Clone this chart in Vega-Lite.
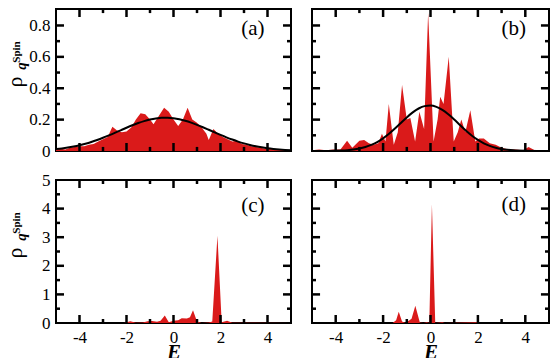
{
  "$schema": "https://vega.github.io/schema/vega-lite/v6.json",
  "background": "white",
  "padding": {"left": 3, "top": 3, "right": 3, "bottom": 0},
  "columns": 2,
  "spacing": {"row": 29, "column": 21},
  "bounds": "flush",
  "config": {
    "view": {"stroke": "black", "strokeWidth": 2},
    "axis": {"domain": false, "grid": false, "ticks": false, "tickSize": 0, "labelFont": "Liberation Serif", "labelFontSize": 17, "labelColor": "black", "titleColor": "black", "titleFont": "Liberation Serif"}
  },
  "datasets": {
    "one": [{"k": 1}],
    "ticksT": [
      {"id": "b-4", "E": -4, "v": 0}, {"id": "b-4", "E": -4, "v": 0.051}, {"id": "b-2", "E": -2, "v": 0}, {"id": "b-2", "E": -2, "v": 0.051},
      {"id": "b0", "E": 0, "v": 0}, {"id": "b0", "E": 0, "v": 0.051}, {"id": "b2", "E": 2, "v": 0}, {"id": "b2", "E": 2, "v": 0.051},
      {"id": "b4", "E": 4, "v": 0}, {"id": "b4", "E": 4, "v": 0.051},
      {"id": "b-3", "E": -3, "v": 0}, {"id": "b-3", "E": -3, "v": 0.026}, {"id": "b-1", "E": -1, "v": 0}, {"id": "b-1", "E": -1, "v": 0.026},
      {"id": "b1", "E": 1, "v": 0}, {"id": "b1", "E": 1, "v": 0.026}, {"id": "b3", "E": 3, "v": 0}, {"id": "b3", "E": 3, "v": 0.026},
      {"id": "t-4", "E": -4, "v": 0.905}, {"id": "t-4", "E": -4, "v": 0.854}, {"id": "t-2", "E": -2, "v": 0.905}, {"id": "t-2", "E": -2, "v": 0.854},
      {"id": "t0", "E": 0, "v": 0.905}, {"id": "t0", "E": 0, "v": 0.854}, {"id": "t2", "E": 2, "v": 0.905}, {"id": "t2", "E": 2, "v": 0.854},
      {"id": "t4", "E": 4, "v": 0.905}, {"id": "t4", "E": 4, "v": 0.854},
      {"id": "t-3", "E": -3, "v": 0.905}, {"id": "t-3", "E": -3, "v": 0.879}, {"id": "t-1", "E": -1, "v": 0.905}, {"id": "t-1", "E": -1, "v": 0.879},
      {"id": "t1", "E": 1, "v": 0.905}, {"id": "t1", "E": 1, "v": 0.879}, {"id": "t3", "E": 3, "v": 0.905}, {"id": "t3", "E": 3, "v": 0.879},
      {"id": "l.2", "E": -5, "v": 0.2}, {"id": "l.2", "E": -4.66, "v": 0.2}, {"id": "l.4", "E": -5, "v": 0.4}, {"id": "l.4", "E": -4.66, "v": 0.4},
      {"id": "l.6", "E": -5, "v": 0.6}, {"id": "l.6", "E": -4.66, "v": 0.6}, {"id": "l.8", "E": -5, "v": 0.8}, {"id": "l.8", "E": -4.66, "v": 0.8},
      {"id": "l.1", "E": -5, "v": 0.1}, {"id": "l.1", "E": -4.83, "v": 0.1}, {"id": "l.3", "E": -5, "v": 0.3}, {"id": "l.3", "E": -4.83, "v": 0.3},
      {"id": "l.5", "E": -5, "v": 0.5}, {"id": "l.5", "E": -4.83, "v": 0.5}, {"id": "l.7", "E": -5, "v": 0.7}, {"id": "l.7", "E": -4.83, "v": 0.7},
      {"id": "r.2", "E": 4.66, "v": 0.2}, {"id": "r.2", "E": 5, "v": 0.2}, {"id": "r.4", "E": 4.66, "v": 0.4}, {"id": "r.4", "E": 5, "v": 0.4},
      {"id": "r.6", "E": 4.66, "v": 0.6}, {"id": "r.6", "E": 5, "v": 0.6}, {"id": "r.8", "E": 4.66, "v": 0.8}, {"id": "r.8", "E": 5, "v": 0.8},
      {"id": "r.1", "E": 4.83, "v": 0.1}, {"id": "r.1", "E": 5, "v": 0.1}, {"id": "r.3", "E": 4.83, "v": 0.3}, {"id": "r.3", "E": 5, "v": 0.3},
      {"id": "r.5", "E": 4.83, "v": 0.5}, {"id": "r.5", "E": 5, "v": 0.5}, {"id": "r.7", "E": 4.83, "v": 0.7}, {"id": "r.7", "E": 5, "v": 0.7}
    ],
    "ticksB": [
      {"id": "b-4", "E": -4, "v": 0}, {"id": "b-4", "E": -4, "v": 0.28}, {"id": "b-2", "E": -2, "v": 0}, {"id": "b-2", "E": -2, "v": 0.28},
      {"id": "b0", "E": 0, "v": 0}, {"id": "b0", "E": 0, "v": 0.28}, {"id": "b2", "E": 2, "v": 0}, {"id": "b2", "E": 2, "v": 0.28},
      {"id": "b4", "E": 4, "v": 0}, {"id": "b4", "E": 4, "v": 0.28},
      {"id": "b-3", "E": -3, "v": 0}, {"id": "b-3", "E": -3, "v": 0.14}, {"id": "b-1", "E": -1, "v": 0}, {"id": "b-1", "E": -1, "v": 0.14},
      {"id": "b1", "E": 1, "v": 0}, {"id": "b1", "E": 1, "v": 0.14}, {"id": "b3", "E": 3, "v": 0}, {"id": "b3", "E": 3, "v": 0.14},
      {"id": "t-4", "E": -4, "v": 5}, {"id": "t-4", "E": -4, "v": 4.72}, {"id": "t-2", "E": -2, "v": 5}, {"id": "t-2", "E": -2, "v": 4.72},
      {"id": "t0", "E": 0, "v": 5}, {"id": "t0", "E": 0, "v": 4.72}, {"id": "t2", "E": 2, "v": 5}, {"id": "t2", "E": 2, "v": 4.72},
      {"id": "t4", "E": 4, "v": 5}, {"id": "t4", "E": 4, "v": 4.72},
      {"id": "t-3", "E": -3, "v": 5}, {"id": "t-3", "E": -3, "v": 4.86}, {"id": "t-1", "E": -1, "v": 5}, {"id": "t-1", "E": -1, "v": 4.86},
      {"id": "t1", "E": 1, "v": 5}, {"id": "t1", "E": 1, "v": 4.86}, {"id": "t3", "E": 3, "v": 5}, {"id": "t3", "E": 3, "v": 4.86},
      {"id": "l1", "E": -5, "v": 1}, {"id": "l1", "E": -4.66, "v": 1}, {"id": "l2", "E": -5, "v": 2}, {"id": "l2", "E": -4.66, "v": 2},
      {"id": "l3", "E": -5, "v": 3}, {"id": "l3", "E": -4.66, "v": 3}, {"id": "l4", "E": -5, "v": 4}, {"id": "l4", "E": -4.66, "v": 4},
      {"id": "l.5", "E": -5, "v": 0.5}, {"id": "l.5", "E": -4.83, "v": 0.5}, {"id": "l1.5", "E": -5, "v": 1.5}, {"id": "l1.5", "E": -4.83, "v": 1.5},
      {"id": "l2.5", "E": -5, "v": 2.5}, {"id": "l2.5", "E": -4.83, "v": 2.5}, {"id": "l3.5", "E": -5, "v": 3.5}, {"id": "l3.5", "E": -4.83, "v": 3.5},
      {"id": "l4.5", "E": -5, "v": 4.5}, {"id": "l4.5", "E": -4.83, "v": 4.5},
      {"id": "r1", "E": 4.66, "v": 1}, {"id": "r1", "E": 5, "v": 1}, {"id": "r2", "E": 4.66, "v": 2}, {"id": "r2", "E": 5, "v": 2},
      {"id": "r3", "E": 4.66, "v": 3}, {"id": "r3", "E": 5, "v": 3}, {"id": "r4", "E": 4.66, "v": 4}, {"id": "r4", "E": 5, "v": 4},
      {"id": "r.5", "E": 4.83, "v": 0.5}, {"id": "r.5", "E": 5, "v": 0.5}, {"id": "r1.5", "E": 4.83, "v": 1.5}, {"id": "r1.5", "E": 5, "v": 1.5},
      {"id": "r2.5", "E": 4.83, "v": 2.5}, {"id": "r2.5", "E": 5, "v": 2.5}, {"id": "r3.5", "E": 4.83, "v": 3.5}, {"id": "r3.5", "E": 5, "v": 3.5},
      {"id": "r4.5", "E": 4.83, "v": 4.5}, {"id": "r4.5", "E": 5, "v": 4.5}
    ],
    "a": [
      {"E": -5.0, "v": 0.01}, {"E": -4.8, "v": 0.015}, {"E": -4.6, "v": 0.01}, {"E": -4.4, "v": 0.02}, {"E": -4.2, "v": 0.025},
      {"E": -4.0, "v": 0.03}, {"E": -3.8, "v": 0.03}, {"E": -3.6, "v": 0.04}, {"E": -3.4, "v": 0.045}, {"E": -3.2, "v": 0.06},
      {"E": -3.0, "v": 0.075}, {"E": -2.8, "v": 0.09}, {"E": -2.6, "v": 0.155}, {"E": -2.4, "v": 0.13}, {"E": -2.2, "v": 0.12},
      {"E": -2.0, "v": 0.125}, {"E": -1.8, "v": 0.15}, {"E": -1.6, "v": 0.2}, {"E": -1.4, "v": 0.24}, {"E": -1.2, "v": 0.235},
      {"E": -1.0, "v": 0.2}, {"E": -0.85, "v": 0.17}, {"E": -0.6, "v": 0.23}, {"E": -0.4, "v": 0.275}, {"E": -0.2, "v": 0.25},
      {"E": 0.0, "v": 0.2}, {"E": 0.2, "v": 0.16}, {"E": 0.4, "v": 0.2}, {"E": 0.6, "v": 0.275}, {"E": 0.8, "v": 0.2},
      {"E": 1.0, "v": 0.18}, {"E": 1.2, "v": 0.15}, {"E": 1.4, "v": 0.11}, {"E": 1.5, "v": 0.07}, {"E": 1.7, "v": 0.14},
      {"E": 1.9, "v": 0.11}, {"E": 2.1, "v": 0.09}, {"E": 2.3, "v": 0.075}, {"E": 2.5, "v": 0.06}, {"E": 2.7, "v": 0.065},
      {"E": 2.9, "v": 0.045}, {"E": 3.1, "v": 0.04}, {"E": 3.3, "v": 0.03}, {"E": 3.5, "v": 0.025}, {"E": 3.7, "v": 0.02},
      {"E": 3.9, "v": 0.015}, {"E": 4.1, "v": 0.012}, {"E": 4.3, "v": 0.015}, {"E": 4.5, "v": 0.01}, {"E": 4.7, "v": 0.008},
      {"E": 5.0, "v": 0.005}
    ],
    "b": [
      {"E": -5.0, "v": 0.005}, {"E": -4.7, "v": 0.01}, {"E": -4.4, "v": 0.005}, {"E": -4.1, "v": 0.01}, {"E": -3.8, "v": 0.01},
      {"E": -3.52, "v": 0.065}, {"E": -3.3, "v": 0.02}, {"E": -3.0, "v": 0.065}, {"E": -2.8, "v": 0.07}, {"E": -2.6, "v": 0.05},
      {"E": -2.4, "v": 0.04}, {"E": -2.2, "v": 0.05}, {"E": -2.05, "v": 0.11}, {"E": -1.9, "v": 0.06}, {"E": -1.76, "v": 0.3},
      {"E": -1.55, "v": 0.04}, {"E": -1.38, "v": 0.12}, {"E": -1.2, "v": 0.42}, {"E": -1.0, "v": 0.2}, {"E": -0.85, "v": 0.21},
      {"E": -0.65, "v": 0.06}, {"E": -0.47, "v": 0.25}, {"E": -0.27, "v": 0.14}, {"E": -0.1, "v": 0.88}, {"E": 0.13, "v": 0.06},
      {"E": 0.3, "v": 0.2}, {"E": 0.41, "v": 0.345}, {"E": 0.55, "v": 0.3}, {"E": 0.77, "v": 0.6}, {"E": 0.98, "v": 0.06},
      {"E": 1.15, "v": 0.12}, {"E": 1.3, "v": 0.2}, {"E": 1.47, "v": 0.12}, {"E": 1.68, "v": 0.26}, {"E": 1.89, "v": 0.06},
      {"E": 2.05, "v": 0.08}, {"E": 2.25, "v": 0.08}, {"E": 2.5, "v": 0.05}, {"E": 2.75, "v": 0.04}, {"E": 3.0, "v": 0.02},
      {"E": 3.3, "v": 0.01}, {"E": 3.6, "v": 0.01}, {"E": 3.9, "v": 0.005}, {"E": 4.14, "v": 0.025}, {"E": 4.4, "v": 0.005},
      {"E": 4.7, "v": 0.005}, {"E": 5.0, "v": 0.0}
    ],
    "c": [
      {"E": -5.0, "v": 0}, {"E": -2.1, "v": 0}, {"E": -1.84, "v": 0.06}, {"E": -1.6, "v": 0.01}, {"E": -1.3, "v": 0.02},
      {"E": -1.1, "v": 0.06}, {"E": -0.91, "v": 0.07}, {"E": -0.7, "v": 0.04}, {"E": -0.55, "v": 0.08}, {"E": -0.37, "v": 0.26},
      {"E": -0.2, "v": 0.03}, {"E": 0.0, "v": 0.08}, {"E": 0.2, "v": 0.1}, {"E": 0.35, "v": 0.17}, {"E": 0.57, "v": 0.16},
      {"E": 0.7, "v": 0.2}, {"E": 0.83, "v": 0.45}, {"E": 1.0, "v": 0.05}, {"E": 1.2, "v": 0.0}, {"E": 1.5, "v": 0.02},
      {"E": 1.65, "v": 0.05}, {"E": 1.87, "v": 3.05}, {"E": 2.05, "v": 0.03}, {"E": 2.28, "v": 0.08}, {"E": 2.5, "v": 0.01},
      {"E": 5.0, "v": 0}
    ],
    "d": [
      {"E": -5.0, "v": 0}, {"E": -1.6, "v": 0}, {"E": -1.45, "v": 0.1}, {"E": -1.34, "v": 0.39}, {"E": -1.2, "v": 0.05},
      {"E": -1.05, "v": 0.0}, {"E": -0.95, "v": 0.06}, {"E": -0.8, "v": 0.15}, {"E": -0.64, "v": 0.6}, {"E": -0.45, "v": 0.02},
      {"E": -0.3, "v": 0.0}, {"E": -0.15, "v": 0.03}, {"E": -0.05, "v": 0.0}, {"E": 0.06, "v": 4.15}, {"E": 0.2, "v": 0.0},
      {"E": 0.5, "v": 0.03}, {"E": 0.6, "v": 0.0}, {"E": 1.95, "v": 0.03}, {"E": 2.05, "v": 0.0}, {"E": 5.0, "v": 0}
    ],
    "ga": [
      {"E": -5, "v": 0.0124}, {"E": -4.75, "v": 0.0166}, {"E": -4.5, "v": 0.022}, {"E": -4.25, "v": 0.0287}, {"E": -4, "v": 0.0368},
      {"E": -3.75, "v": 0.0464}, {"E": -3.5, "v": 0.0575}, {"E": -3.25, "v": 0.0702}, {"E": -3, "v": 0.0842}, {"E": -2.75, "v": 0.0994},
      {"E": -2.5, "v": 0.1154}, {"E": -2.25, "v": 0.1319}, {"E": -2, "v": 0.1482}, {"E": -1.75, "v": 0.1638}, {"E": -1.5, "v": 0.1782},
      {"E": -1.25, "v": 0.1906}, {"E": -1, "v": 0.2005}, {"E": -0.75, "v": 0.2076}, {"E": -0.5, "v": 0.2114}, {"E": -0.25, "v": 0.2117},
      {"E": 0, "v": 0.2086}, {"E": 0.25, "v": 0.2022}, {"E": 0.5, "v": 0.1928}, {"E": 0.75, "v": 0.1808}, {"E": 1, "v": 0.1668},
      {"E": 1.25, "v": 0.1514}, {"E": 1.5, "v": 0.1352}, {"E": 1.75, "v": 0.1187}, {"E": 2, "v": 0.1026}, {"E": 2.25, "v": 0.0872},
      {"E": 2.5, "v": 0.0729}, {"E": 2.75, "v": 0.0599}, {"E": 3, "v": 0.0485}, {"E": 3.25, "v": 0.0386}, {"E": 3.5, "v": 0.0302},
      {"E": 3.75, "v": 0.0233}, {"E": 4, "v": 0.0176}, {"E": 4.25, "v": 0.0131}, {"E": 4.5, "v": 0.0096}, {"E": 4.75, "v": 0.0069},
      {"E": 5, "v": 0.0049}
    ],
    "gb": [
      {"E": -5, "v": 0.0001}, {"E": -4.5, "v": 0.0004}, {"E": -4, "v": 0.0015}, {"E": -3.75, "v": 0.0029}, {"E": -3.5, "v": 0.0053},
      {"E": -3.25, "v": 0.0093}, {"E": -3, "v": 0.0156}, {"E": -2.75, "v": 0.0251}, {"E": -2.5, "v": 0.0386}, {"E": -2.25, "v": 0.0571},
      {"E": -2, "v": 0.0809}, {"E": -1.75, "v": 0.1099}, {"E": -1.5, "v": 0.1431}, {"E": -1.25, "v": 0.1788}, {"E": -1, "v": 0.2142},
      {"E": -0.75, "v": 0.246}, {"E": -0.5, "v": 0.2709}, {"E": -0.25, "v": 0.2861}, {"E": 0, "v": 0.2898}, {"E": 0.25, "v": 0.2814},
      {"E": 0.5, "v": 0.262}, {"E": 0.75, "v": 0.2339}, {"E": 1, "v": 0.2002}, {"E": 1.25, "v": 0.1644}, {"E": 1.5, "v": 0.1294},
      {"E": 1.75, "v": 0.0977}, {"E": 2, "v": 0.0707}, {"E": 2.25, "v": 0.0491}, {"E": 2.5, "v": 0.0327}, {"E": 2.75, "v": 0.0208},
      {"E": 3, "v": 0.0127}, {"E": 3.25, "v": 0.0075}, {"E": 3.5, "v": 0.0042}, {"E": 4, "v": 0.0012}, {"E": 4.5, "v": 0.0003},
      {"E": 5, "v": 0.0001}
    ]
  },
  "concat": [
    {
      "width": 235, "height": 142,
      "resolve": {"axis": {"x": "independent", "y": "independent"}},
      "layer": [
        {"data": {"name": "a"}, "mark": {"type": "area", "color": "#da1a1a", "clip": true},
         "encoding": {
           "x": {"field": "E", "type": "quantitative", "scale": {"domain": [-5, 5], "nice": false, "zero": false}, "axis": null},
           "y": {"field": "v", "type": "quantitative", "scale": {"domain": [0, 0.905], "nice": false, "zero": false},
                 "axis": {"orient": "left", "values": [0, 0.2, 0.4, 0.6, 0.8], "labelExpr": "'' + datum.value", "labelPadding": 6, "title": null}}}},
        {"data": {"name": "ga"}, "mark": {"type": "line", "color": "black", "strokeWidth": 2, "interpolate": "monotone", "clip": true},
         "encoding": {
           "x": {"field": "E", "type": "quantitative", "scale": {"domain": [-5, 5], "nice": false, "zero": false}, "axis": null},
           "y": {"field": "v", "type": "quantitative", "scale": {"domain": [0, 0.905], "nice": false, "zero": false}, "axis": null}}},
        {"data": {"name": "ticksT"}, "mark": {"type": "line", "color": "black", "strokeWidth": 2.5},
         "encoding": {
           "x": {"field": "E", "type": "quantitative", "scale": {"domain": [-5, 5], "nice": false, "zero": false}, "axis": null},
           "y": {"field": "v", "type": "quantitative", "scale": {"domain": [0, 0.905], "nice": false, "zero": false}, "axis": null},
           "detail": {"field": "id", "type": "nominal"}}},
        {"data": {"name": "one"}, "mark": {"type": "text", "text": "(a)", "font": "Liberation Serif", "fontSize": 21, "align": "center", "baseline": "alphabetic", "color": "black"},
         "encoding": {
           "x": {"datum": 3.38, "type": "quantitative", "scale": {"domain": [-5, 5], "nice": false, "zero": false}, "axis": null},
           "y": {"datum": 0.74, "type": "quantitative", "scale": {"domain": [0, 0.905], "nice": false, "zero": false}, "axis": null}}},
        {"data": {"name": "one"}, "mark": {"type": "text", "text": "ρ", "font": "Liberation Serif", "fontSize": 22, "angle": 270, "align": "center", "baseline": "alphabetic", "color": "black"},
         "encoding": {
           "x": {"datum": -6.43, "type": "quantitative", "scale": {"domain": [-5, 5], "nice": false, "zero": false}, "axis": null},
           "y": {"datum": 0.44, "type": "quantitative", "scale": {"domain": [0, 0.905], "nice": false, "zero": false}, "axis": null}}},
        {"data": {"name": "one"}, "mark": {"type": "text", "text": "q", "font": "Liberation Serif", "fontSize": 15, "fontStyle": "italic", "fontWeight": "bold", "angle": 270, "align": "center", "baseline": "alphabetic", "color": "black"},
         "encoding": {
           "x": {"datum": -6.29, "type": "quantitative", "scale": {"domain": [-5, 5], "nice": false, "zero": false}, "axis": null},
           "y": {"datum": 0.542, "type": "quantitative", "scale": {"domain": [0, 0.905], "nice": false, "zero": false}, "axis": null}}},
        {"data": {"name": "one"}, "mark": {"type": "text", "text": "Spin", "font": "Liberation Serif", "fontSize": 11, "fontWeight": "bold", "angle": 270, "align": "center", "baseline": "alphabetic", "color": "black"},
         "encoding": {
           "x": {"datum": -6.55, "type": "quantitative", "scale": {"domain": [-5, 5], "nice": false, "zero": false}, "axis": null},
           "y": {"datum": 0.631, "type": "quantitative", "scale": {"domain": [0, 0.905], "nice": false, "zero": false}, "axis": null}}}
      ]
    },
    {
      "width": 237, "height": 142,
      "resolve": {"axis": {"x": "independent", "y": "independent"}},
      "layer": [
        {"data": {"name": "b"}, "mark": {"type": "area", "color": "#da1a1a", "clip": true},
         "encoding": {
           "x": {"field": "E", "type": "quantitative", "scale": {"domain": [-5, 5], "nice": false, "zero": false}, "axis": null},
           "y": {"field": "v", "type": "quantitative", "scale": {"domain": [0, 0.905], "nice": false, "zero": false}, "axis": null}}},
        {"data": {"name": "gb"}, "mark": {"type": "line", "color": "black", "strokeWidth": 2, "interpolate": "monotone", "clip": true},
         "encoding": {
           "x": {"field": "E", "type": "quantitative", "scale": {"domain": [-5, 5], "nice": false, "zero": false}, "axis": null},
           "y": {"field": "v", "type": "quantitative", "scale": {"domain": [0, 0.905], "nice": false, "zero": false}, "axis": null}}},
        {"data": {"name": "ticksT"}, "mark": {"type": "line", "color": "black", "strokeWidth": 2.5},
         "encoding": {
           "x": {"field": "E", "type": "quantitative", "scale": {"domain": [-5, 5], "nice": false, "zero": false}, "axis": null},
           "y": {"field": "v", "type": "quantitative", "scale": {"domain": [0, 0.905], "nice": false, "zero": false}, "axis": null},
           "detail": {"field": "id", "type": "nominal"}}},
        {"data": {"name": "one"}, "mark": {"type": "text", "text": "(b)", "font": "Liberation Serif", "fontSize": 21, "align": "center", "baseline": "alphabetic", "color": "black"},
         "encoding": {
           "x": {"datum": 3.51, "type": "quantitative", "scale": {"domain": [-5, 5], "nice": false, "zero": false}, "axis": null},
           "y": {"datum": 0.74, "type": "quantitative", "scale": {"domain": [0, 0.905], "nice": false, "zero": false}, "axis": null}}}
      ]
    },
    {
      "width": 235, "height": 143,
      "resolve": {"axis": {"x": "independent", "y": "independent"}},
      "layer": [
        {"data": {"name": "c"}, "mark": {"type": "area", "color": "#da1a1a", "clip": true},
         "encoding": {
           "x": {"field": "E", "type": "quantitative", "scale": {"domain": [-5, 5], "nice": false, "zero": false},
                 "axis": {"orient": "bottom", "values": [-4, -2, 0, 2, 4], "labelExpr": "'' + datum.value", "labelPadding": 6,
                          "title": "E", "titleFontSize": 21, "titleFontWeight": "bold", "titleFontStyle": "italic", "titleBaseline": "alphabetic", "titleY": 35}},
           "y": {"field": "v", "type": "quantitative", "scale": {"domain": [0, 5], "nice": false, "zero": false},
                 "axis": {"orient": "left", "values": [0, 1, 2, 3, 4, 5], "labelExpr": "'' + datum.value", "labelPadding": 6, "title": null}}}},
        {"data": {"name": "ticksB"}, "mark": {"type": "line", "color": "black", "strokeWidth": 2.5},
         "encoding": {
           "x": {"field": "E", "type": "quantitative", "scale": {"domain": [-5, 5], "nice": false, "zero": false}, "axis": null},
           "y": {"field": "v", "type": "quantitative", "scale": {"domain": [0, 5], "nice": false, "zero": false}, "axis": null},
           "detail": {"field": "id", "type": "nominal"}}},
        {"data": {"name": "one"}, "mark": {"type": "text", "text": "(c)", "font": "Liberation Serif", "fontSize": 21, "align": "center", "baseline": "alphabetic", "color": "black"},
         "encoding": {
           "x": {"datum": 3.38, "type": "quantitative", "scale": {"domain": [-5, 5], "nice": false, "zero": false}, "axis": null},
           "y": {"datum": 3.88, "type": "quantitative", "scale": {"domain": [0, 5], "nice": false, "zero": false}, "axis": null}}},
        {"data": {"name": "one"}, "mark": {"type": "text", "text": "ρ", "font": "Liberation Serif", "fontSize": 22, "angle": 270, "align": "center", "baseline": "alphabetic", "color": "black"},
         "encoding": {
           "x": {"datum": -6.43, "type": "quantitative", "scale": {"domain": [-5, 5], "nice": false, "zero": false}, "axis": null},
           "y": {"datum": 2.448, "type": "quantitative", "scale": {"domain": [0, 5], "nice": false, "zero": false}, "axis": null}}},
        {"data": {"name": "one"}, "mark": {"type": "text", "text": "q", "font": "Liberation Serif", "fontSize": 15, "fontStyle": "italic", "fontWeight": "bold", "angle": 270, "align": "center", "baseline": "alphabetic", "color": "black"},
         "encoding": {
           "x": {"datum": -6.29, "type": "quantitative", "scale": {"domain": [-5, 5], "nice": false, "zero": false}, "axis": null},
           "y": {"datum": 3.007, "type": "quantitative", "scale": {"domain": [0, 5], "nice": false, "zero": false}, "axis": null}}},
        {"data": {"name": "one"}, "mark": {"type": "text", "text": "Spin", "font": "Liberation Serif", "fontSize": 11, "fontWeight": "bold", "angle": 270, "align": "center", "baseline": "alphabetic", "color": "black"},
         "encoding": {
           "x": {"datum": -6.55, "type": "quantitative", "scale": {"domain": [-5, 5], "nice": false, "zero": false}, "axis": null},
           "y": {"datum": 3.497, "type": "quantitative", "scale": {"domain": [0, 5], "nice": false, "zero": false}, "axis": null}}}
      ]
    },
    {
      "width": 237, "height": 143,
      "resolve": {"axis": {"x": "independent", "y": "independent"}},
      "layer": [
        {"data": {"name": "d"}, "mark": {"type": "area", "color": "#da1a1a", "clip": true},
         "encoding": {
           "x": {"field": "E", "type": "quantitative", "scale": {"domain": [-5, 5], "nice": false, "zero": false},
                 "axis": {"orient": "bottom", "values": [-4, -2, 0, 2, 4], "labelExpr": "'' + datum.value", "labelPadding": 6,
                          "title": "E", "titleFontSize": 21, "titleFontWeight": "bold", "titleFontStyle": "italic", "titleBaseline": "alphabetic", "titleY": 35}},
           "y": {"field": "v", "type": "quantitative", "scale": {"domain": [0, 5], "nice": false, "zero": false}, "axis": null}}},
        {"data": {"name": "ticksB"}, "mark": {"type": "line", "color": "black", "strokeWidth": 2.5},
         "encoding": {
           "x": {"field": "E", "type": "quantitative", "scale": {"domain": [-5, 5], "nice": false, "zero": false}, "axis": null},
           "y": {"field": "v", "type": "quantitative", "scale": {"domain": [0, 5], "nice": false, "zero": false}, "axis": null},
           "detail": {"field": "id", "type": "nominal"}}},
        {"data": {"name": "one"}, "mark": {"type": "text", "text": "(d)", "font": "Liberation Serif", "fontSize": 21, "align": "center", "baseline": "alphabetic", "color": "black"},
         "encoding": {
           "x": {"datum": 3.51, "type": "quantitative", "scale": {"domain": [-5, 5], "nice": false, "zero": false}, "axis": null},
           "y": {"datum": 3.92, "type": "quantitative", "scale": {"domain": [0, 5], "nice": false, "zero": false}, "axis": null}}}
      ]
    }
  ]
}
